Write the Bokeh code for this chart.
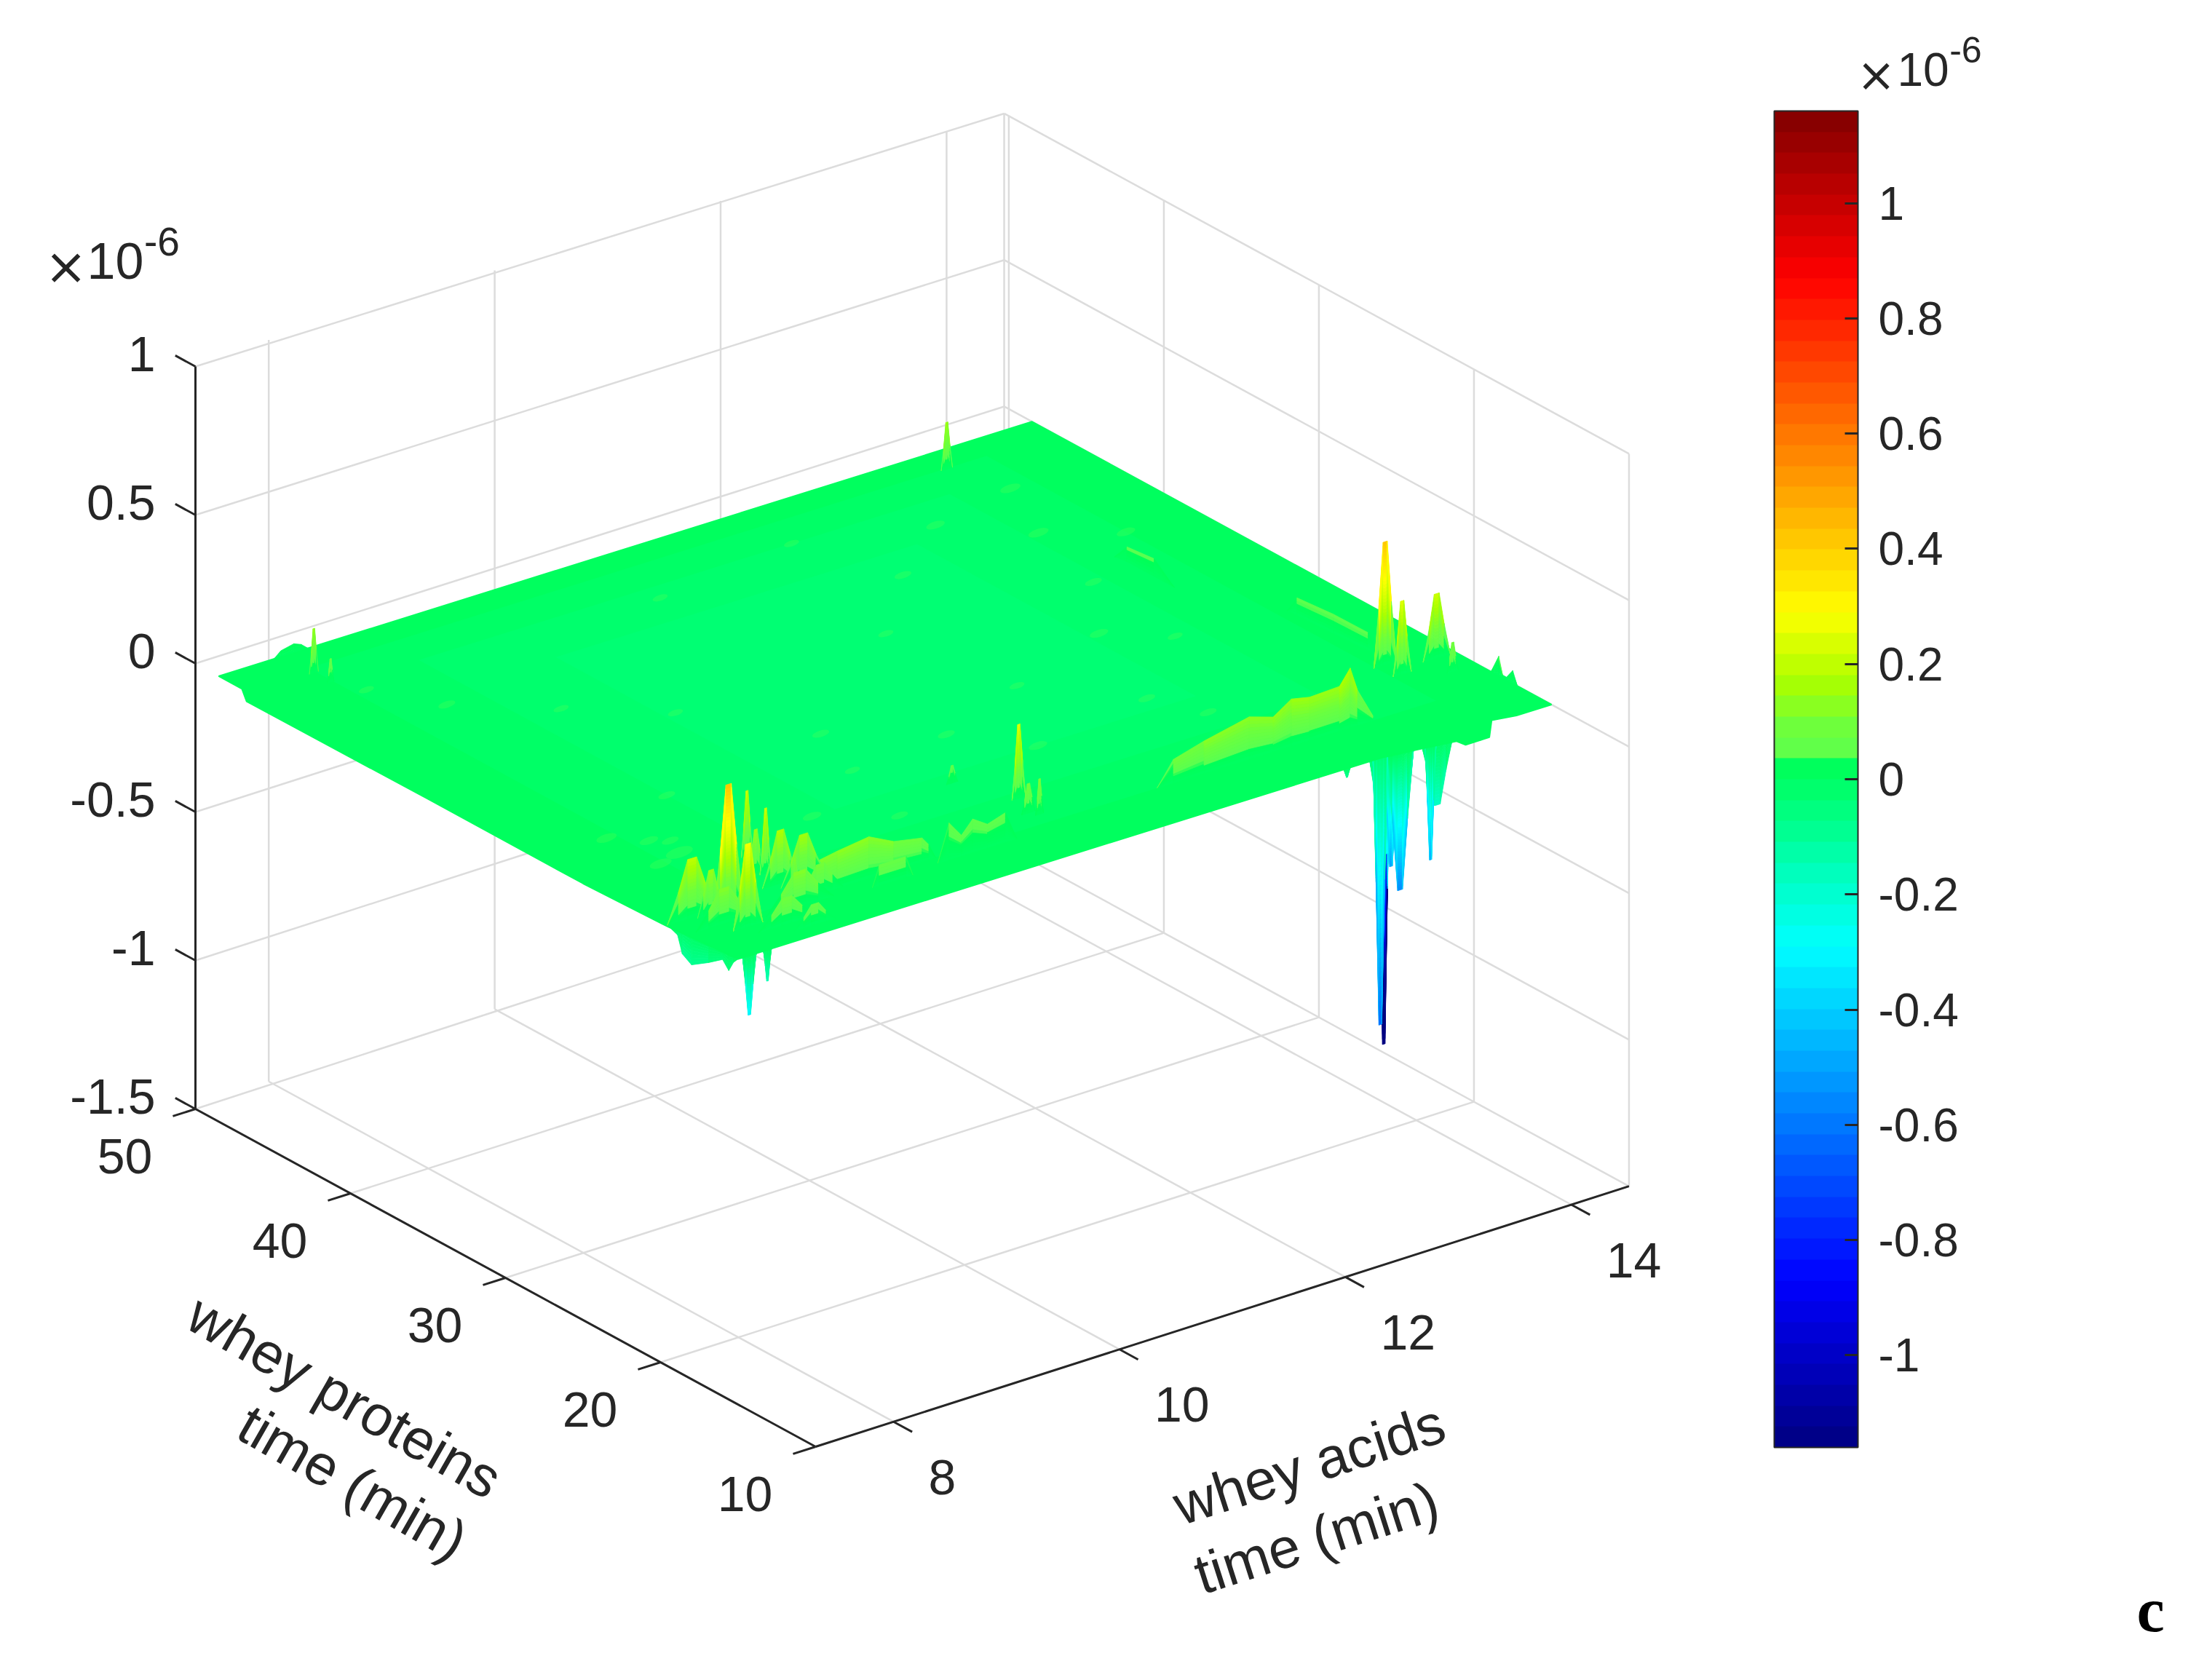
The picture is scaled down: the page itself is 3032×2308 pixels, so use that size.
import math
from bokeh.core.properties import value
from bokeh.embed import file_html
from bokeh.models import ColorBar, FixedTicker, LinearColorMapper, Range1d
from bokeh.plotting import figure
from bokeh.resources import INLINE

# ---------- axes ----------
X_LIM = [7.31, 14.51]
Y_LIM = [10.0, 50.0]
Z_LIM = [-1.5, 1.0]
WALL_Y = 50.3
x_ticks = [8, 10, 12, 14]
y_ticks = [10, 20, 30, 40, 50]
z_ticks = [-1.5, -1, -0.5, 0, 0.5, 1]
z_tick_labels = ["-1.5", "-1", "-0.5", "0", "0.5", "1"]
cb_ticks = [-1, -0.8, -0.6, -0.4, -0.2, 0, 0.2, 0.4, 0.6, 0.8, 1]
cb_labels = ["-1", "-0.8", "-0.6", "-0.4", "-0.2", "0", "0.2", "0.4", "0.6", "0.8", "1"]
C_LIM = [-1.16, 1.16]

# colour map: value, r, g, b
cmap_v = [-1.16, -0.87, -0.29, -0.165, -0.08, 0.0, 0.03, 0.036, 0.09, 0.13, 0.17, 0.29, 0.87, 1.16]
cmap_r = [0, 0, 0, 0, 0, 0, 0, 90, 110, 140, 170, 255, 255, 128]
cmap_g = [0, 0, 255, 255, 255, 255, 255, 255, 255, 255, 255, 255, 0, 0]
cmap_b = [128, 255, 255, 190, 140, 98, 88, 80, 60, 30, 0, 0, 0, 0]

# ---------- surface outline ----------
SURF_Y = [15.0, 48.5]
top_x = [7.31, 14.51]
top_z = [0.0, 0.0]
right_y = [48.5, 15.0]
right_z = [0.0, 0.0]
front_x = [14.51, 14.2, 13.98, 13.96, 13.75, 13.67, 13.31, 13.0, 7.31]
front_z = [0.0, 0.0, 0.01, -0.045, -0.046, -0.024, -0.01, 0.0, 0.0]
left_y = [15.0, 19.5, 25.0, 35.0, 46.7, 47.0, 48.5]
left_z = [0.0, -0.02, -0.03, -0.03, -0.034, 0.0, 0.0]

# tone zones inside the plane: x0, x1, y0, y1, value
tone_x0 = [7.9, 8.6, 9.4]
tone_x1 = [13.9, 13.3, 12.6]
tone_y0 = [18.0, 21.0, 24.0]
tone_y1 = [47.0, 45.0, 42.0]
tone_c = [-0.012, -0.025, -0.035]

# ---------- positive spikes: x, y, height, half-width ----------
up_x = [7.775, 8.425, 8.35, 7.70, 8.33, 8.48, 7.48, 7.62, 8.29, 8.31, 7.95, 8.1, 7.6, 8.2, 8.45,
        10.55, 10.50, 10.45, 10.33, 13.985, 13.985, 14.345, 14.295, 13.54, 7.878, 7.875]
up_y = [19.0, 22.55, 20.8, 17.2, 19.7, 19.3, 19.2, 19.0, 21.0, 18.6, 16.5, 15.8, 18.0, 17.5, 18.0,
        20.5, 18.8, 19.15, 23.2, 21.9, 20.8, 21.2, 19.8, 46.93, 46.5, 45.4]
up_z = [0.42, 0.22, 0.22, 0.28, 0.18, 0.16, 0.20, 0.15, 0.15, 0.12, 0.09, 0.07, 0.12, 0.12, 0.10,
        0.25, 0.12, 0.10, 0.06, 0.42, 0.25, 0.22, 0.10, 0.16, 0.15, 0.08]
up_w = [0.13, 0.05, 0.05, 0.13, 0.16, 0.20, 0.22, 0.12, 0.07, 0.03, 0.25, 0.18, 0.25, 0.30, 0.20,
        0.06, 0.035, 0.06, 0.05, 0.10, 0.08, 0.12, 0.05, 0.05, 0.04, 0.03]

# ---------- negative spikes ----------
dn_x = [13.245, 13.1, 13.5, 13.44, 13.09, 13.17, 13.215, 7.41, 7.57, 12.7]
dn_y = [16.6, 15.4, 15.0, 15.0, 15.0, 15.0, 16.6, 15.0, 15.0, 15.0]
dn_z = [-1.05, -0.35, -0.22, -0.40, -0.38, -0.47, -0.98, -0.20, -0.105, -0.03]
dn_w = [0.06, 0.15, 0.14, 0.05, 0.07, 0.12, 0.07, 0.06, 0.035, 0.03]
dn_c = [-1.6, -0.30, -0.18, -0.47, -0.50, -0.55, -0.62, -0.32, -0.17, -0.10]

# ---------- low ridges ----------
ridge1_x = [8.25, 8.39, 8.60, 8.88, 9.10, 9.35, 9.41, 9.47]
ridge1_y = [18.0, 18.0, 18.0, 18.0, 18.0, 18.0, 18.0, 18.0]
ridge1_z = [0.0, 0.11, 0.125, 0.14, 0.098, 0.08, 0.05, 0.0]

ridge2_x = [11.43, 11.575, 11.846, 12.246, 12.458, 12.62, 12.78, 13.045, 13.14, 13.205, 13.34]
ridge2_y = [18.0, 18.0, 18.0, 18.0, 18.0, 18.0, 18.0, 18.0, 18.0, 18.0, 18.0]
ridge2_z = [0.0, 0.08, 0.11, 0.144, 0.118, 0.16, 0.147, 0.152, 0.203, 0.12, 0.017]

ridge3_x = [8.80, 8.86, 9.10, 9.16]
ridge3_y = [17.2, 17.2, 17.2, 17.2]
ridge3_z = [0.0, 0.07, 0.07, 0.0]

ridge4_x = [9.42, 9.52, 9.63, 9.73, 9.86, 10.02, 10.12]
ridge4_y = [17.5, 17.5, 17.5, 17.5, 17.5, 17.5, 17.5]
ridge4_z = [0.0, 0.125, 0.07, 0.113, 0.08, 0.10, 0.0]

ridge5_x = [14.0, 14.0, 14.02, 14.04, 14.05]
ridge5_y = [28.3, 27.7, 25.5, 23.4, 22.8]
ridge5_z = [0.0, 0.06, 0.065, 0.06, 0.0]

ridge6_x = [13.58, 13.6, 13.6, 13.6]
ridge6_y = [36.4, 35.75, 34.0, 32.7]
ridge6_z = [0.0, 0.05, 0.06, 0.0]

edge_r_x = [14.51, 14.51, 14.51, 14.51, 14.51, 14.51]
edge_r_y = [18.9, 18.4, 18.15, 17.9, 17.5, 17.2]
edge_r_z = [0.0, 0.067, 0.01, 0.01, 0.044, 0.0]

edge_t_x = [7.8, 7.86, 7.975, 8.04, 8.1]
edge_t_y = [48.5, 48.5, 48.5, 48.5, 48.5]
edge_t_z = [0.0, 0.02, 0.03, 0.02, 0.0]

skirt_x = [7.31, 7.31, 7.31, 7.31, 7.31, 7.31, 7.31, 7.31, 7.31, 7.31]
skirt_y = [20.0, 19.5, 18.9, 18.6, 18.0, 16.9, 16.0, 15.6, 15.3, 15.0]
skirt_z = [0.0, -0.017, -0.03, -0.085, -0.105, -0.066, -0.03, -0.056, -0.02, 0.0]

# faint specks on the plane
speck_x = [7.86, 8.03, 8.15, 7.82, 8.08, 8.6, 9.2, 9.9, 10.1, 10.8, 11.2, 11.7, 12.3, 12.7, 13.1,
           13.4, 13.7, 12.9, 12.2, 11.5, 9.5, 8.9, 8.3, 8.0, 10.6, 11.9, 13.2, 13.9, 9.7, 12.5]
speck_y = [24.0, 26.0, 25.5, 27.2, 24.4, 29.0, 24.0, 26.5, 30.0, 27.0, 24.0, 29.0, 25.0, 31.0, 29.0,
           40.0, 44.0, 43.0, 40.0, 36.0, 35.0, 38.0, 41.0, 44.0, 44.0, 45.0, 35.0, 38.0, 22.0, 22.5]
speck_s = [13, 11, 10, 12, 16, 10, 11, 9, 10, 10, 11, 9, 10, 11, 9, 12, 12, 11, 10, 9, 9, 9, 10, 9, 9, 9, 10, 11, 10, 10]

# ---------- text ----------
label_y = ["whey proteins", "time (min)"]
label_x = ["whey acids", "time (min)"]
panel_letter = "c"

# ---------- layout (pixels of the page) ----------
ORIGIN = (268.0, 1523.0)       # x min, y max, z min corner
UX = (155.2, -49.7)
UY = (21.3, 11.6)              # per unit of decreasing y
UZ = 408.0
UZ_FAR = 0.0135                # slight shrink of heights toward the far side
INK = "#262626"
GRID = "#dcdcdc"
FONT = value("Liberation Sans")


def proj(x, y, z):
    a = x - X_LIM[0]
    b = Y_LIM[1] - y
    c = z - Z_LIM[0]
    uz = UZ * (1 - UZ_FAR * a / (X_LIM[1] - X_LIM[0]))
    return ORIGIN[0] + UX[0] * a + UY[0] * b, ORIGIN[1] + UX[1] * a + UY[1] * b - uz * c


def cval(v):
    v = max(cmap_v[0], min(cmap_v[-1], v))
    for i in range(len(cmap_v) - 1):
        if v <= cmap_v[i + 1]:
            t = (v - cmap_v[i]) / (cmap_v[i + 1] - cmap_v[i])
            r = cmap_r[i] + t * (cmap_r[i + 1] - cmap_r[i])
            g = cmap_g[i] + t * (cmap_g[i + 1] - cmap_g[i])
            b = cmap_b[i] + t * (cmap_b[i + 1] - cmap_b[i])
            return "#%02x%02x%02x" % (round(r), round(g), round(b))
    return "#800000"


class Quads:
    def __init__(self):
        self.xs, self.ys, self.cs = [], [], []

    def ribbon(self, xs, ys, zs, scale=1.0):
        for i in range(len(xs) - 1):
            zm = max(abs(zs[i]), abs(zs[i + 1]))
            n = max(1, min(60, math.ceil(zm * max(1.0, abs(scale)) / 0.012)))
            for j in range(n):
                f0, f1 = j / n, (j + 1) / n
                pts = [proj(xs[i], ys[i], zs[i] * f0), proj(xs[i + 1], ys[i + 1], zs[i + 1] * f0),
                       proj(xs[i + 1], ys[i + 1], zs[i + 1] * f1), proj(xs[i], ys[i], zs[i] * f1)]
                self.xs.append([p[0] for p in pts])
                self.ys.append([p[1] for p in pts])
                self.cs.append(cval((zs[i] + zs[i + 1]) / 2 * (f0 + f1) / 2 * scale))

    def spike(self, x, y, z, w, tip_c=None):
        off = [-1.0, -0.55, -0.18, 0.18, 0.55, 1.0]
        frac = [0.0, 0.5, 1.0, 1.0, 0.5, 0.0]
        scale = 1.0 if tip_c is None else tip_c / z
        self.ribbon([x + w * o for o in off], [y] * 6, [z * f for f in frac], scale)


p = figure(width=3016, height=2292, x_range=Range1d(0, 3016), y_range=Range1d(2292, 0),
           output_backend="svg", toolbar_location=None, min_border=0, outline_line_color=None)
p.axis.visible = False
p.grid.visible = False
p.background_fill_color = "white"
p.border_fill_color = "white"


def seg(p0, p1, **kw):
    p.line([p0[0], p1[0]], [p0[1], p1[1]], **kw)


g = dict(line_color=GRID, line_width=2.5)
# walls and floor
for xt in x_ticks + [X_LIM[1]]:
    seg(proj(xt, WALL_Y, Z_LIM[0]), proj(xt, WALL_Y, Z_LIM[1]), **g)
for xt in x_ticks:
    seg(proj(xt, Y_LIM[0], Z_LIM[0]), proj(xt, WALL_Y, Z_LIM[0]), **g)
for yt in y_ticks:
    seg(proj(X_LIM[1], yt, Z_LIM[0]), proj(X_LIM[1], yt, Z_LIM[1]), **g)
    if yt != Y_LIM[1]:
        seg(proj(X_LIM[0], yt, Z_LIM[0]), proj(X_LIM[1], yt, Z_LIM[0]), **g)
for zt in z_ticks:
    seg(proj(X_LIM[0], Y_LIM[1], zt), proj(X_LIM[1], WALL_Y, zt), **g)
    seg(proj(X_LIM[1], WALL_Y, zt), proj(X_LIM[1], Y_LIM[0], zt), **g)

# below the plane
below = Quads()
below.ribbon(skirt_x, skirt_y, skirt_z)
for i in range(len(dn_x)):
    below.spike(dn_x[i], dn_y[i], dn_z[i], dn_w[i], dn_c[i])
p.patches(below.xs, below.ys, fill_color=below.cs, line_color=below.cs, line_width=0.8)

# plane
outline = [proj(x, SURF_Y[1], z) for x, z in zip(top_x, top_z)]
outline += [proj(X_LIM[1], y, z) for y, z in zip(right_y, right_z)]
outline += [proj(x, SURF_Y[0], z) for x, z in zip(front_x, front_z)]
outline += [proj(X_LIM[0], y, z) for y, z in zip(left_y, left_z)]
p.patch([q[0] for q in outline], [q[1] for q in outline], fill_color=cval(0.012), line_color=cval(0.012), line_width=2)
for i in range(len(tone_x0)):
    c = [proj(tone_x0[i], tone_y0[i], 0), proj(tone_x1[i], tone_y0[i], 0),
         proj(tone_x1[i], tone_y1[i], 0), proj(tone_x0[i], tone_y1[i], 0)]
    p.patch([q[0] for q in c], [q[1] for q in c], fill_color=cval(tone_c[i]), fill_alpha=0.8, line_color=None)

sx, sy = zip(*[proj(x, y, 0) for x, y in zip(speck_x, speck_y)])
p.ellipse(list(sx), list(sy), width=[s * 2.4 for s in speck_s], height=[s * 0.9 for s in speck_s], angle=0.3,
          fill_color="#44ff55", fill_alpha=0.35, line_color=None)

# above the plane, far to near
above = Quads()
above.ribbon(edge_t_x, edge_t_y, edge_t_z)
above.ribbon(edge_r_x, edge_r_y, edge_r_z)
above.ribbon(ridge5_x, ridge5_y, ridge5_z, 0.75)
above.ribbon(ridge6_x, ridge6_y, ridge6_z, 0.75)
above.ribbon(ridge4_x, ridge4_y, ridge4_z, 0.55)
above.ribbon(ridge1_x, ridge1_y, ridge1_z)
above.ribbon(ridge3_x, ridge3_y, ridge3_z)
above.ribbon(ridge2_x, ridge2_y, ridge2_z)
order = sorted(range(len(up_x)), key=lambda k: -up_y[k])
for k in order:
    above.spike(up_x[k], up_y[k], up_z[k], up_w[k])
p.patches(above.xs, above.ys, fill_color=above.cs, line_color=above.cs, line_width=0.8)

# axis lines and ticks
a = dict(line_color=INK, line_width=3)
seg(proj(X_LIM[0], Y_LIM[1], Z_LIM[0]), proj(X_LIM[0], Y_LIM[1], Z_LIM[1]), **a)
seg(proj(X_LIM[0], Y_LIM[1], Z_LIM[0]), proj(X_LIM[0], Y_LIM[0], Z_LIM[0]), **a)
seg(proj(X_LIM[0], Y_LIM[0], Z_LIM[0]), proj(X_LIM[1], Y_LIM[0], Z_LIM[0]), **a)
for xt in x_ticks:
    seg(proj(xt, Y_LIM[0], Z_LIM[0]), proj(xt, Y_LIM[0] - 1.2, Z_LIM[0]), **a)
for yt in y_ticks:
    seg(proj(X_LIM[0], yt, Z_LIM[0]), proj(X_LIM[0] - 0.2, yt, Z_LIM[0]), **a)
for zt in z_ticks:
    seg(proj(X_LIM[0], Y_LIM[1], zt), proj(X_LIM[0], Y_LIM[1] + 1.3, zt), **a)

t_kw = dict(text_font=FONT, text_color=INK)
# tick labels
bx, by = zip(*[proj(v, Y_LIM[0], Z_LIM[0]) for v in x_ticks])
p.text([v + 48 for v in bx], [v + 76 for v in by], text=[str(v) for v in x_ticks], text_font_size="68px",
       text_align="left", text_baseline="middle", **t_kw)
bx, by = zip(*[proj(X_LIM[0], v, Z_LIM[0]) for v in y_ticks])
p.text([v - 97 for v in bx], [v + 65 for v in by], text=[str(v) for v in y_ticks], text_font_size="68px",
       text_align="center", text_baseline="middle", **t_kw)
bx, by = zip(*[proj(X_LIM[0], Y_LIM[1], v) for v in z_ticks])
p.text([v - 55 for v in bx], [v - 17 for v in by], text=z_tick_labels, text_font_size="68px",
       text_align="right", text_baseline="middle", **t_kw)

# axis titles
p.text([473, 484], [1918, 2036], text=label_y, angle=[-0.52, -0.52], text_font_size="78px",
       text_align="center", text_baseline="middle", **t_kw)
p.text([1798, 1808], [2011, 2112], text=label_x, angle=[0.31, 0.31], text_font_size="78px",
       text_align="center", text_baseline="middle", **t_kw)


def exponent(x0, y0, size):
    p.text([x0 - 29], [y0 + 7], text=["×"], text_font=value("DejaVu Sans"), text_font_size=f"{size}px",
           text_align="center", text_baseline="middle", text_color=INK)
    p.text([x0], [y0], text=["10"], text_font_size=f"{size}px", text_align="left",
           text_baseline="alphabetic", **t_kw)
    p.text([x0 + 1.12 * size], [y0 - 27], text=["-6"], text_font_size=f"{round(size * 0.78)}px", text_align="left",
           text_baseline="alphabetic", **t_kw)


exponent(119, 358, 70)
exponent(2606, 95, 64)

p.text([2954], [2211], text=[panel_letter], text_font=value("Liberation Serif"), text_font_style="bold",
       text_font_size="86px", text_color="#000000", text_align="center", text_baseline="middle")

# colour bar
palette = [cval(C_LIM[0] + (C_LIM[1] - C_LIM[0]) * (i + 0.5) / 64) for i in range(64)]
mapper = LinearColorMapper(palette=palette, low=C_LIM[0], high=C_LIM[1])
cb = ColorBar(color_mapper=mapper, location=(2437, 304), width=115, height=1836, padding=0, margin=0,
              ticker=FixedTicker(ticks=cb_ticks),
              major_label_overrides={t: s for t, s in zip(cb_ticks, cb_labels)},
              major_label_text_font="Liberation Sans", major_label_text_font_size="64px",
              major_label_text_color=INK, label_standoff=28,
              major_tick_in=18, major_tick_out=0, major_tick_line_color=INK, major_tick_line_width=3,
              minor_tick_line_color=None, bar_line_color=INK, bar_line_width=2)
p.add_layout(cb)

open("out.html", "w").write(file_html(p, INLINE))
